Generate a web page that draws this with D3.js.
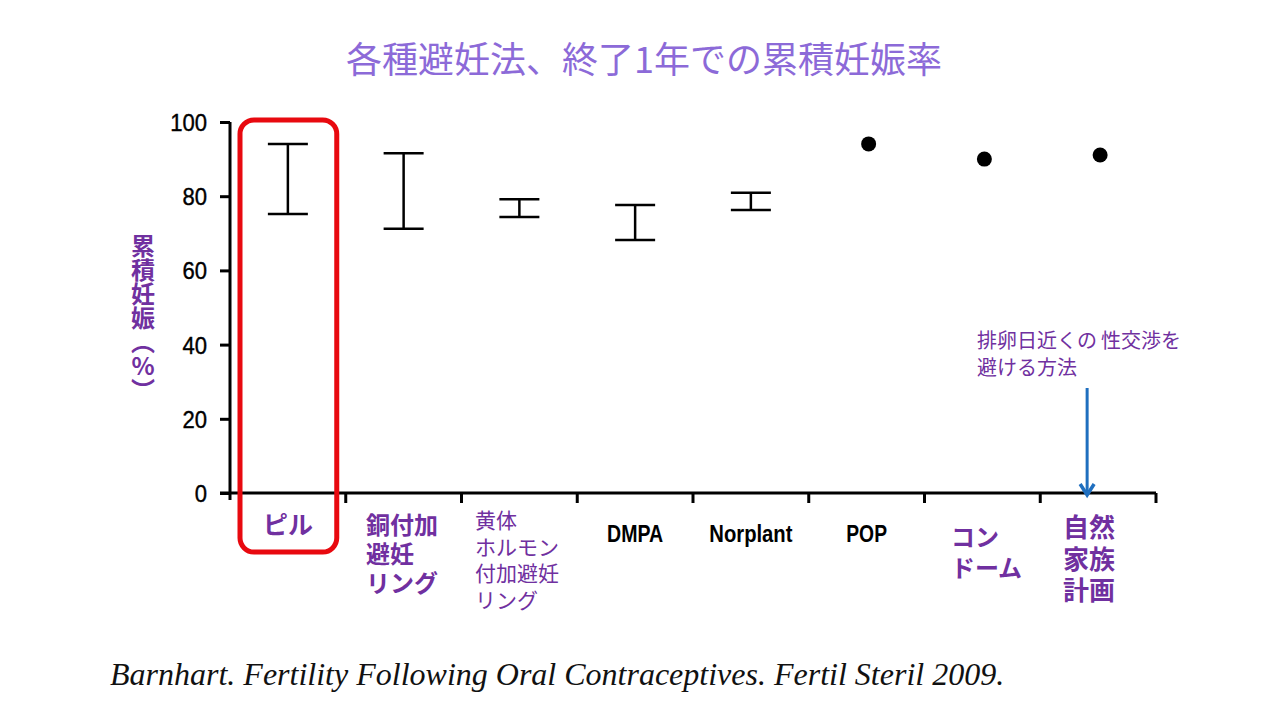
<!DOCTYPE html>
<html>
<head>
<meta charset="utf-8">
<script src="https://cdn.jsdelivr.net/npm/d3@7"></script>
<style>
  body { margin: 0; background: #fff; }
  svg { display: block; }
  /* same CJK font, tighter line box so stacked label lines sit like the slide */
  @font-face {
    font-family: "JPTight";
    src: local("Noto Sans CJK JP"), local("NotoSansCJKjp-Regular"), local("Noto Sans CJK JP Regular");
    font-weight: 400;
    ascent-override: 100%;
    descent-override: 14%;
  }
  @font-face {
    font-family: "JPTight";
    src: local("Noto Sans CJK JP Bold"), local("NotoSansCJKjp-Bold");
    font-weight: 700;
    ascent-override: 100%;
    descent-override: 14%;
  }
</style>
</head>
<body>
<div id="chart"></div>
<script>
// data
const categories = ['ピル', '銅付加避妊リング', '黄体ホルモン付加避妊リング', 'DMPA', 'Norplant', 'POP', 'コンドーム', '自然家族計画'];
const lowValues  = [75.2, 71.2, 74.4, 68.2, 76.3, null, null, null];
const highValues = [94.1, 91.6, 79.2, 77.6, 80.9, null, null, null];
const pointValues = [null, null, null, null, null, 94.1, 90.0, 91.1];
const yTicks = [0, 20, 40, 60, 80, 100];
const labelLines = [
	['ピル'],
	['銅付加', '避妊', 'リング'],
	['黄体', 'ホルモン', '付加避妊', 'リング'],
	['DMPA'],
	['Norplant'],
	['POP'],
	['コン', 'ドーム'],
	['自然', '家族', '計画']
];
const noteLines = ['排卵日近くの 性交渉を', '避ける方法'];
const noteTarget = '自然家族計画';

const W = 1280, H = 720;
const purple = '#7030a0';
const jp = '"Noto Sans CJK JP", "Noto Sans", sans-serif';
const jpTight = '"JPTight", "Noto Sans CJK JP", sans-serif';
const sans = '"Liberation Sans", Arial, sans-serif';

let svg = d3.select('#chart').append('svg')
	.attr('width', W)
	.attr('height', H);

let x = d3.scaleBand().domain(categories).range([230, 1156]).padding(0);
let y = d3.scaleLinear().domain([0, 100]).range([493, 122]);
let bw = x.bandwidth();
let cx = (c) => x(c) + bw / 2;

// title
svg.append('text')
	.attr('x', 644).attr('y', 73)
	.attr('text-anchor', 'middle')
	.attr('font-family', jp)
	.attr('font-size', 36)
	.attr('fill', '#8c6ad8')
	.text('各種避妊法、終了1年での累積妊娠率');

// y axis
let yAxis = svg.append('g')
	.attr('transform', 'translate(230,0)')
	.call(d3.axisLeft(y).tickValues(yTicks).tickSize(10).tickSizeOuter(0).tickPadding(15));
yAxis.select('.domain').attr('stroke', '#000').attr('stroke-width', 3)
	.attr('d', 'M0,' + y(100) + 'V' + (y(0) + 7));
yAxis.selectAll('.tick line').attr('stroke', '#000').attr('stroke-width', 3);
yAxis.selectAll('.tick text')
	.attr('font-family', sans)
	.attr('font-size', 24)
	.attr('fill', '#000')
	.attr('stroke', '#000')
	.attr('stroke-width', 0.4)
	.attr('dy', '0.35em')
	.attr('transform', 'scale(0.92,1)');

// x axis baseline + ticks on band edges
svg.append('line')
	.attr('x1', 220).attr('x2', x.range()[1])
	.attr('y1', y(0)).attr('y2', y(0))
	.attr('stroke', '#000').attr('stroke-width', 3);
svg.selectAll('.xtick')
	.data(categories.slice(1).map((c) => x(c)).concat([x.range()[1]]))
	.enter().append('line')
		.attr('class', 'xtick')
		.attr('x1', (d) => d).attr('x2', (d) => d)
		.attr('y1', y(0)).attr('y2', y(0) + 10)
		.attr('stroke', '#000').attr('stroke-width', 3);

// y axis title, vertical
svg.append('text')
	.attr('x', 143).attr('y', 234)
	.attr('font-family', jp)
	.attr('font-weight', 700)
	.attr('font-size', 24)
	.attr('fill', purple)
	.style('writing-mode', 'vertical-rl')
	.style('text-orientation', 'upright')
	.text('累積妊娠（%）');

// highlight around the pill
svg.append('rect')
	.attr('x', x('ピル') + 10).attr('y', y(100) - 2)
	.attr('width', bw - 19).attr('height', 552 - y(100) + 2)
	.attr('rx', 14).attr('ry', 14)
	.attr('fill', 'none')
	.attr('stroke', '#e8090f')
	.attr('stroke-width', 5);

// error bars
let bars = categories.map((c, i) => ({ c: c, lo: lowValues[i], hi: highValues[i] })).filter((o) => o.lo != null);
let capW = 20;
let gBar = svg.selectAll('.ebar').data(bars).enter().append('g').attr('class', 'ebar')
	.attr('stroke', '#000').attr('stroke-width', 2.5);
gBar.append('line')
	.attr('x1', (o) => cx(o.c)).attr('x2', (o) => cx(o.c))
	.attr('y1', (o) => y(o.hi)).attr('y2', (o) => y(o.lo));
gBar.append('line')
	.attr('x1', (o) => cx(o.c) - capW).attr('x2', (o) => cx(o.c) + capW)
	.attr('y1', (o) => y(o.hi)).attr('y2', (o) => y(o.hi));
gBar.append('line')
	.attr('x1', (o) => cx(o.c) - capW).attr('x2', (o) => cx(o.c) + capW)
	.attr('y1', (o) => y(o.lo)).attr('y2', (o) => y(o.lo));

// points
let pts = categories.map((c, i) => ({ c: c, v: pointValues[i] })).filter((o) => o.v != null);
svg.selectAll('.pt').data(pts).enter().append('circle')
	.attr('class', 'pt')
	.attr('cx', (o) => cx(o.c) + 2)
	.attr('cy', (o) => y(o.v))
	.attr('r', 7.5)
	.attr('fill', '#000');

// category labels, each styled like on the slide
let labelStyle = [
	{ anchor: 'middle', dx: 0, y0: 534, step: 29, size: 25, weight: 700, fill: purple, font: jp, sx: 1 },
	{ anchor: 'start', dx: 20, y0: 534, step: 29, size: 24, weight: 700, fill: purple, font: jpTight, sx: 1 },
	{ anchor: 'start', dx: 13.5, y0: 528, step: 26.5, size: 21, weight: 400, fill: purple, font: jpTight, sx: 1 },
	{ anchor: 'middle', dx: 0, y0: 542, step: 0, size: 23, weight: 700, fill: '#000', font: sans, sx: 0.85 },
	{ anchor: 'middle', dx: 0, y0: 542, step: 0, size: 23, weight: 700, fill: '#000', font: sans, sx: 0.88 },
	{ anchor: 'middle', dx: 0, y0: 542, step: 0, size: 23, weight: 700, fill: '#000', font: sans, sx: 0.84 },
	{ anchor: 'start', dx: 26, y0: 546, step: 31, size: 24, weight: 700, fill: purple, font: jpTight, sx: 1 },
	{ anchor: 'middle', dx: -9, y0: 537, step: 31.5, size: 26, weight: 700, fill: purple, font: jpTight, sx: 1 }
];
categories.forEach((c, i) => {
	let s = labelStyle[i];
	let px = (s.anchor === 'middle' ? cx(c) : x(c)) + s.dx;
	let t = svg.append('g')
		.attr('transform', 'translate(' + px + ',0) scale(' + s.sx + ',1)')
		.append('text')
			.attr('text-anchor', s.anchor)
			.attr('font-family', s.font)
			.attr('font-size', s.size)
			.attr('font-weight', s.weight)
			.attr('fill', s.fill);
	labelLines[i].forEach((ln, k) => {
		t.append('tspan').attr('x', 0).attr('y', s.y0 + k * s.step).text(ln);
	});
});

// note + arrow to natural family planning
let note = svg.append('text')
	.attr('font-family', jpTight)
	.attr('font-size', 20)
	.attr('fill', purple);
noteLines.forEach((ln, k) => {
	note.append('tspan').attr('x', 977).attr('y', 348 + k * 27).text(ln);
});
let ax = cx(noteTarget) - 11;
svg.append('line')
	.attr('x1', ax).attr('x2', ax)
	.attr('y1', 388).attr('y2', y(0) + 2)
	.attr('stroke', '#1f6fbf').attr('stroke-width', 3);
svg.append('path')
	.attr('d', 'M' + (ax - 7) + ',' + (y(0) - 9) + 'L' + ax + ',' + (y(0) + 2) + 'L' + (ax + 7) + ',' + (y(0) - 9))
	.attr('fill', 'none')
	.attr('stroke', '#1f6fbf').attr('stroke-width', 3.5);

// citation
svg.append('text')
	.attr('x', 110).attr('y', 685)
	.attr('font-family', '"Liberation Serif", "DejaVu Serif", serif')
	.attr('font-style', 'italic')
	.attr('font-size', 32)
	.attr('fill', '#111')
	.text('Barnhart. Fertility Following Oral Contraceptives. Fertil Steril 2009.');
</script>
</body>
</html>
